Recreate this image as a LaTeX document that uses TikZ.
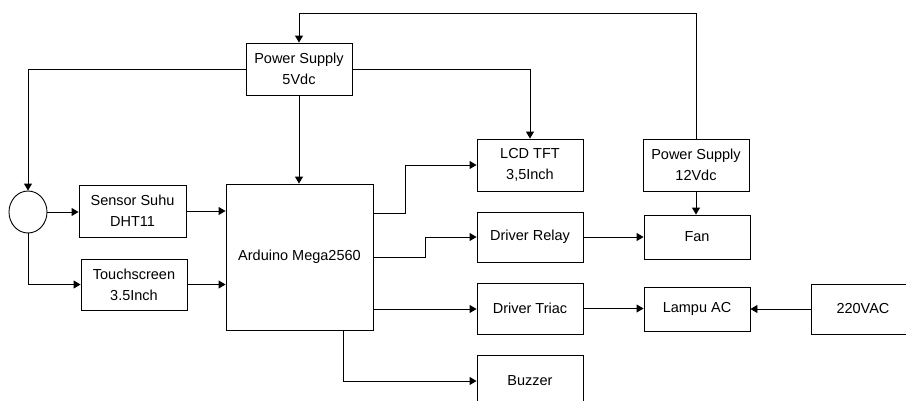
\documentclass[tikz,border=0pt]{standalone}
\usepackage{fontspec}
\setmainfont{Liberation Sans}
\usetikzlibrary{arrows.meta,shapes.geometric}
\begin{document}
\begin{tikzpicture}[x=1pt,y=-1pt,
  blk/.style={draw, line width=0.9pt, inner sep=0pt, align=center, font=\fontsize{14.5}{21}\selectfont},
  con/.style={line width=0.9pt, -{Triangle[length=7pt,width=8pt]}}]
\useasboundingbox (0,0) rectangle (906,400);
\clip (0,0) rectangle (906,400);
\node[blk, minimum width=106pt, minimum height=52pt] (ps5) at (299,69) {Power Supply\\5Vdc};
\node[blk, minimum width=147pt, minimum height=146pt] (ard) at (299.5,257) {Arduino Mega2560};
\node[draw, line width=0.9pt, ellipse, minimum width=38pt, minimum height=42pt, inner sep=0pt] (c) at (28,212) {};
\node[blk, minimum width=107pt, minimum height=52pt] (sen) at (132.5,211) {Sensor Suhu\\DHT11};
\node[blk, minimum width=106pt, minimum height=51pt] (ts) at (134,284.5) {Touchscreen\\3.5Inch};
\node[blk, minimum width=106pt, minimum height=52pt] (lcd) at (530,165) {LCD TFT\\3,5Inch};
\node[blk, minimum width=106pt, minimum height=50pt] (dr) at (530,237) {Driver Relay};
\node[blk, minimum width=106pt, minimum height=51pt] (dt) at (530,308.5) {Driver Triac};
\node[blk, minimum width=106pt, minimum height=52pt] (bz) at (530,381) {Buzzer};
\node[blk, minimum width=106pt, minimum height=52pt] (ps12) at (696,165) {Power Supply\\12Vdc};
\node[blk, minimum width=106pt, minimum height=44pt] (fan) at (697,237) {Fan};
\node[blk, minimum width=106pt, minimum height=44pt] (lamp) at (697,309) {Lampu AC};
\node[blk, minimum width=104pt, minimum height=50pt] (ac) at (863,309) {220VAC};
% power lines
\draw[con] (ps12.north) |- (299,13) -- (ps5.north);
\draw[con] (ps5.west) -| (c.north);
\draw[con] (ps5.east) -| (lcd.north);
\draw[con] (ps5.south) -- (ard.north -| ps5.south);
\draw[con] (ps12.south) -- (fan.north -| ps12.south);
% inputs
\draw[con] (c.east) -- (sen.west |- c.east);
\draw[con] (sen.east) -- (ard.west |- sen.east);
\draw[con] (c.south) |- (ts.west);
\draw[con] (ts.east) -- (ard.west |- ts.east);
% outputs
\draw[con] (ard.east |- 0,213) -| (405,165) -- (lcd.west);
\draw[con] (ard.east |- 0,257) -| (425,237) -- (dr.west);
\draw[con] (ard.east |- 0,309) -- (dt.west |- 0,309);
\draw[con] (ard.south -| 343,0) |- (bz.west);
\draw[con] (dr.east) -- (fan.west |- dr.east);
\draw[con] (dt.east) -- (lamp.west |- dt.east);
\draw[con] (ac.west) -- (lamp.east);
\end{tikzpicture}
\end{document}
